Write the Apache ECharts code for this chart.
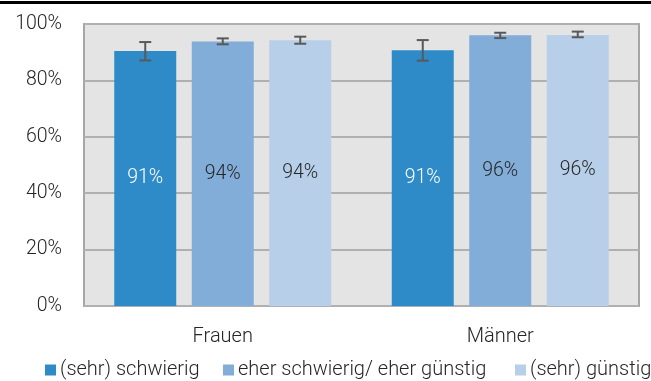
<!DOCTYPE html>
<html>
<head>
<meta charset="utf-8">
<script src="https://cdn.jsdelivr.net/npm/echarts@6/dist/echarts.min.js"></script>
<style>html,body{margin:0;padding:0;background:#fff}#c{width:651px;height:381px}</style>
</head>
<body>
<div id="c"></div>
<script>
const categories = ['Frauen', 'Männer'];
const seriesNames = ['(sehr) schwierig', 'eher schwierig/ eher günstig', '(sehr) günstig'];
const values = [
  [90.4, 90.7],
  [93.8, 96.0],
  [94.2, 96.1]
];
const labels = [
  ['91%', '91%'],
  ['94%', '96%'],
  ['94%', '96%']
];
const errLow = [
  [87.1, 87.0],
  [92.8, 95.0],
  [93.0, 95.3]
];
const errHigh = [
  [93.6, 94.3],
  [94.9, 96.9],
  [95.5, 97.3]
];
const yTicks = ['0%', '20%', '40%', '60%', '80%', '100%'];

const colors = ['#2E8BC7', '#82ADD8', '#B8CFEA'];
const labelColors = ['#ffffff', '#262626', '#262626'];
const BAR_W = 62, BAR_GAP = 15.5;
const FONT = 'Roboto';
const legendLeft = [40, 218, 510];

const series = [];
values.forEach((vals, i) => {
  series.push({
    name: seriesNames[i],
    type: 'bar',
    barWidth: BAR_W,
    barGap: (BAR_GAP / BAR_W * 100) + '%',
    itemStyle: { color: colors[i] },
    data: vals.map((v, j) => ({ value: v, label: { formatter: labels[i][j] } })),
    label: {
      show: true, position: 'inside', color: labelColors[i],
      fontFamily: FONT, fontWeight: 300, fontSize: 19.5
    },
    z: 2
  });
});
values.forEach((vals, i) => {
  series.push({
    type: 'custom',
    silent: true,
    z: 5,
    data: vals.map((v, j) => [j, errLow[i][j], errHigh[i][j]]),
    renderItem: function (params, api) {
      const x = api.value(0);
      const lo = api.coord([x, api.value(1)]);
      const hi = api.coord([x, api.value(2)]);
      const off = (i - 1) * (BAR_W + BAR_GAP);
      const cx = lo[0] + off;
      const cap = 6;
      const st = { stroke: '#595959', lineWidth: 2 };
      return {
        type: 'group',
        children: [
          { type: 'line', shape: { x1: cx, y1: hi[1], x2: cx, y2: lo[1] }, style: st },
          { type: 'line', shape: { x1: cx - cap, y1: hi[1], x2: cx + cap, y2: hi[1] }, style: st },
          { type: 'line', shape: { x1: cx - cap, y1: lo[1], x2: cx + cap, y2: lo[1] }, style: st }
        ]
      };
    },
    encode: { x: 0, y: [1, 2] }
  });
});

const legends = seriesNames.map((n, i) => ({
  data: [n],
  top: 355,
  left: legendLeft[i],
  itemWidth: 11, itemHeight: 11,
  icon: 'rect',
  selectedMode: false,
  textStyle: { fontFamily: FONT, fontWeight: 300, fontSize: 20, color: '#262626', padding: [0, 0, 0, -1] }
}));

const chart = echarts.init(document.getElementById('c'), null, { renderer: 'canvas' });
chart.setOption({
  animation: false,
  backgroundColor: '#ffffff',
  textStyle: { fontFamily: FONT },
  graphic: [
    { type: 'rect', left: 0, top: 1, shape: { width: 651, height: 3 }, style: { fill: '#000' }, z: 10 }
  ],
  grid: {
    left: 84, right: 12, top: 24, bottom: 75,
    show: true, backgroundColor: '#E4E4E4', borderColor: '#A6A6A6', borderWidth: 2
  },
  legend: legends,
  xAxis: {
    type: 'category',
    data: categories,
    axisLine: { show: false },
    axisTick: { show: false },
    axisLabel: { fontFamily: FONT, fontWeight: 300, fontSize: 20, color: '#262626', margin: 21 }
  },
  yAxis: {
    type: 'value',
    min: 0, max: 100, interval: 20,
    axisLine: { show: false },
    axisTick: { show: false },
    splitLine: { lineStyle: { color: '#B0B0B0', width: 2 } },
    axisLabel: {
      fontFamily: FONT, fontWeight: 300, fontSize: 19.5, color: '#262626', margin: 22,
      formatter: function (v) { return yTicks[Math.round(v / 20)]; }
    }
  },
  series: series
});
</script>
</body>
</html>
